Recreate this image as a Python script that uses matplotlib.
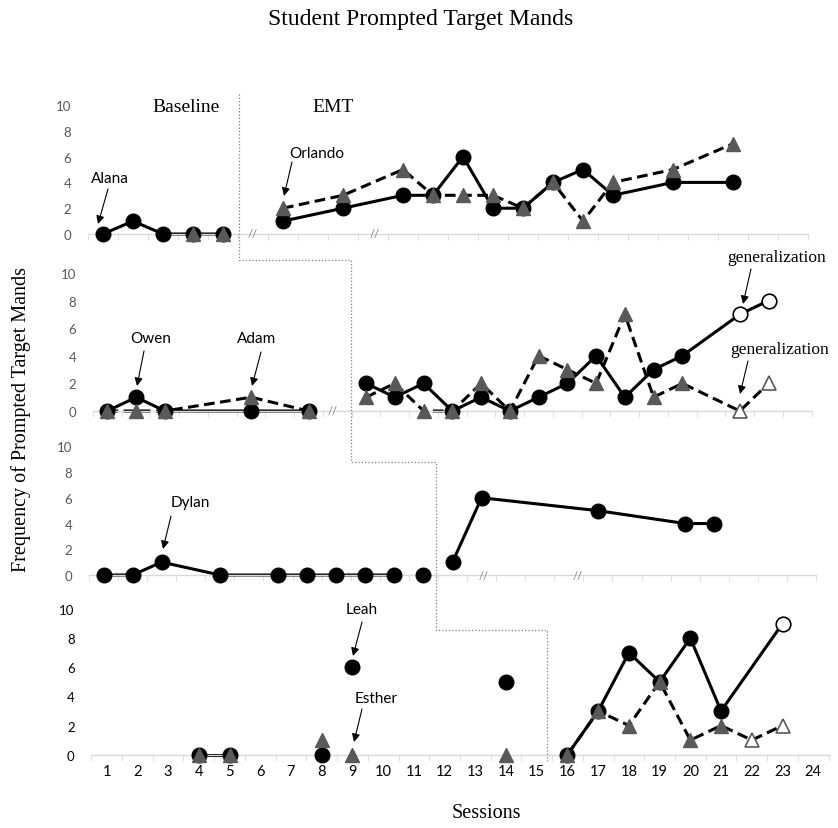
import numpy as np
import matplotlib.pyplot as plt
from matplotlib.lines import Line2D

plt.rcParams['font.family'] = ['Lato', 'DejaVu Sans']
SERIF = 'Liberation Serif'

W, H = 838, 829
fig = plt.figure(figsize=(W / 100, H / 100), dpi=100)

# ---- data: x = session slot on each panel's own category axis ----
# panel 1: Alana (circles), Orlando (triangles)
alana_bl_x = [1, 2, 3, 4, 5]
alana_bl_y = [0, 1, 0, 0, 0]
alana_tx_x = [7, 9, 11, 12, 13, 14, 15, 16, 17, 18, 20, 22]
alana_tx_y = [1, 2, 3, 3, 6, 2, 2, 4, 5, 3, 4, 4]
orlando_bl_x = [4, 5]
orlando_bl_y = [0, 0]
orlando_tx_x = [7, 9, 11, 12, 13, 14, 15, 16, 17, 18, 20, 22]
orlando_tx_y = [2, 3, 5, 3, 3, 3, 2, 4, 1, 4, 5, 7]

# panel 2: Owen (circles), Adam (triangles)
owen_bl_x = [1, 2, 3, 6, 8]
owen_bl_y = [0, 1, 0, 0, 0]
owen_tx_x = [10, 11, 12, 13, 14, 15, 16, 17, 18, 19, 20, 21]
owen_tx_y = [2, 1, 2, 0, 1, 0, 1, 2, 4, 1, 3, 4]
owen_gen_x = [23, 24]
owen_gen_y = [7, 8]
adam_bl_x = [1, 2, 3, 6, 8]
adam_bl_y = [0, 0, 0, 1, 0]
adam_tx_x = [10, 11, 12, 13, 14, 15, 16, 17, 18, 19, 20, 21]
adam_tx_y = [1, 2, 0, 0, 2, 0, 4, 3, 2, 7, 1, 2]
adam_gen_x = [23, 24]
adam_gen_y = [0, 2]

# panel 3: Dylan
dylan_bl_x = [1, 2, 3, 5, 7, 8, 9, 10, 11]
dylan_bl_y = [0, 0, 1, 0, 0, 0, 0, 0, 0]
dylan_single_x = [12]
dylan_single_y = [0]
dylan_tx_x = [13, 14, 18, 21, 22]
dylan_tx_y = [1, 6, 5, 4, 4]

# panel 4: Leah (circles), Esther (triangles)
leah_bl_x = [4, 5]
leah_bl_y = [0, 0]
leah_single_x = [8, 9, 14]
leah_single_y = [0, 6, 5]
leah_tx_x = [16, 17, 18, 19, 20, 21]
leah_tx_y = [0, 3, 7, 5, 8, 3]
leah_gen_x = [23]
leah_gen_y = [9]
esther_bl_x = [4, 5]
esther_bl_y = [0, 0]
esther_single_x = [8, 9, 14]
esther_single_y = [1, 0, 0]
esther_tx_x = [16, 17, 18, 19, 20, 21]
esther_tx_y = [0, 3, 2, 5, 1, 2]
esther_gen_x = [22, 23]
esther_gen_y = [1, 2]

session_labels = [str(i) for i in range(1, 25)]

# ---- styles ----
LW = 2.2
DASH = (0, (3.5, 1.8))
GREY = '#595959'
circ = dict(marker='o', ms=10.5, mfc='black', mec='black')
tri = dict(marker='^', ms=10, mfc=GREY, mec=GREY)
circ_open = dict(marker='o', ms=10.5, mfc='white', mec='black', mew=1.2)
tri_open = dict(marker='^', ms=10, mfc='white', mec=GREY, mew=1.2)


def fx(x):
    return x / W


def fy(y):
    return 1 - y / H


def make_panel(left, right, y0, y10, nslots, labels=False, tick_color=GREY):
    ax = fig.add_axes([fx(left), fy(y0), (right - left) / W, (y0 - y10) / H])
    ax.set_xlim(0.5, nslots + 0.5)
    ax.set_ylim(0, 10)
    for s in ['top', 'right', 'left']:
        ax.spines[s].set_visible(False)
    ax.spines['bottom'].set_color('#d9d9d9')
    ax.spines['bottom'].set_linewidth(1)
    ax.set_yticks(range(0, 11, 2))
    ax.tick_params(axis='y', length=0, pad=12, labelsize=9.5, labelcolor=tick_color)
    ax.set_xticks(np.arange(0.5, nslots + 1, 1), minor=True)
    ax.tick_params(axis='x', which='minor', length=4, color='#d9d9d9', direction='out')
    ax.set_xticks(range(1, nslots + 1))
    if labels:
        ax.set_xticklabels(session_labels[:nslots])
        ax.tick_params(axis='x', which='major', length=0, pad=7, labelsize=10.5)
    else:
        ax.tick_params(axis='x', which='major', length=0, labelbottom=False)
    ax.patch.set_visible(False)
    return ax


def line(ax, x, y, dashed=False):
    ax.plot(x, y, color='black', lw=LW, ls=DASH if dashed else '-', clip_on=False, zorder=2)


def pts(ax, x, y, style, z=3):
    ax.plot(x, y, ls='none', clip_on=False, zorder=z, **style)


def breaks(ax, xs):
    for x in xs:
        ax.text(x, 0, '//', ha='center', va='center', fontsize=8, color='#7f7f7f',
                clip_on=False)


ax1 = make_panel(88, 808, 235, 106, 24)
ax2 = make_panel(93, 811.7, 412, 274, 25)
ax3 = make_panel(89, 816, 576, 447.3, 25)
ax4 = make_panel(91.3, 828.6, 755.7, 610, 24, labels=True, tick_color='black')

# panel 1
line(ax1, alana_bl_x, alana_bl_y)
pts(ax1, alana_bl_x, alana_bl_y, circ)
line(ax1, alana_tx_x, alana_tx_y)
pts(ax1, alana_tx_x, alana_tx_y, circ)
pts(ax1, orlando_bl_x, orlando_bl_y, tri, 4)
line(ax1, orlando_tx_x, orlando_tx_y, dashed=True)
pts(ax1, orlando_tx_x, orlando_tx_y, tri, 4)
breaks(ax1, [6.0, 10.07])

# panel 2
line(ax2, owen_bl_x, owen_bl_y)
pts(ax2, owen_bl_x, owen_bl_y, circ)
line(ax2, owen_tx_x + owen_gen_x, owen_tx_y + owen_gen_y)
pts(ax2, owen_tx_x, owen_tx_y, circ)
pts(ax2, owen_gen_x, owen_gen_y, circ_open)
line(ax2, adam_bl_x, adam_bl_y, dashed=True)
pts(ax2, adam_bl_x, adam_bl_y, tri, 4)
line(ax2, adam_tx_x + adam_gen_x, adam_tx_y + adam_gen_y, dashed=True)
pts(ax2, adam_tx_x, adam_tx_y, tri, 4)
pts(ax2, adam_gen_x, adam_gen_y, tri_open, 4)
breaks(ax2, [8.82])

# panel 3
line(ax3, dylan_bl_x, dylan_bl_y)
pts(ax3, dylan_bl_x, dylan_bl_y, circ)
pts(ax3, dylan_single_x, dylan_single_y, circ)
line(ax3, dylan_tx_x, dylan_tx_y)
pts(ax3, dylan_tx_x, dylan_tx_y, circ)
breaks(ax3, [14.07, 17.29])

# panel 4
line(ax4, leah_bl_x, leah_bl_y)
pts(ax4, leah_bl_x, leah_bl_y, circ)
pts(ax4, leah_single_x, leah_single_y, circ)
line(ax4, leah_tx_x + leah_gen_x, leah_tx_y + leah_gen_y)
pts(ax4, leah_tx_x, leah_tx_y, circ)
pts(ax4, leah_gen_x, leah_gen_y, circ_open)
pts(ax4, esther_bl_x, esther_bl_y, tri, 4)
pts(ax4, esther_single_x, esther_single_y, tri, 4)
line(ax4, esther_tx_x + esther_gen_x, esther_tx_y + esther_gen_y, dashed=True)
pts(ax4, esther_tx_x, esther_tx_y, tri, 4)
pts(ax4, esther_gen_x, esther_gen_y, tri_open, 4)

# ---- stepped phase-change line ----
phase_x = [5.52, 9.49, 12.43, 15.32]
step_y = [95, 261, 463, 630.5, 762]
inv = fig.transFigure.inverted()
xs, ys = [], []
for i, (ax, px) in enumerate(zip([ax1, ax2, ax3, ax4], phase_x)):
    xf = inv.transform(ax.transData.transform((px, 0)))[0]
    xs += [xf, xf]
    ys += [fy(step_y[i]), fy(step_y[i + 1])]
fig.add_artist(Line2D(xs, ys, transform=fig.transFigure, color='#7f7f7f', lw=0.9, ls=':'))

# ---- titles and labels ----
fig.text(fx(421), fy(20), 'Student Prompted Target Mands', ha='center', va='center',
         family=SERIF, fontsize=17)
fig.text(fx(186), fy(108), 'Baseline', ha='center', va='center', family=SERIF, fontsize=14)
fig.text(fx(333), fy(108), 'EMT', ha='center', va='center', family=SERIF, fontsize=14)
fig.text(fx(21), fy(420), 'Frequency of Prompted Target Mands', rotation=90, ha='center',
         va='center', family=SERIF, fontsize=14.5)
fig.text(fx(486), fy(814), 'Sessions', ha='center', va='center', family=SERIF, fontsize=14.5)

# ---- participant names with arrows ----
notes = [
    ('Alana', (110, 179), (108, 190), (98, 225), None),
    ('Orlando', (317, 154), (292, 163), (284, 197), None),
    ('Owen', (151, 339), (144, 352), (137, 387), None),
    ('Adam', (257, 339), (261, 353), (252, 387), None),
    ('generalization', (777, 258), (751, 270), (743, 305), SERIF),
    ('generalization', (780, 350), (748, 362), (740, 395), SERIF),
    ('Dylan', (190, 503), (171, 517), (163, 550), None),
    ('Leah', (362, 610), (362, 623), (353, 657), None),
    ('Esther', (376, 699), (362, 710), (354, 743), None),
]
for label, tpos, start, end, fam in notes:
    if fam:
        fig.text(fx(tpos[0]), fy(tpos[1]), label, ha='center', va='center',
                 family=fam, fontsize=12.5)
    else:
        fig.text(fx(tpos[0]), fy(tpos[1]), label, ha='center', va='center', fontsize=11)
    ax1.annotate('', xy=(fx(end[0]), fy(end[1])), xytext=(fx(start[0]), fy(start[1])),
                 xycoords='figure fraction', textcoords='figure fraction',
                 annotation_clip=False,
                 arrowprops=dict(arrowstyle='-|>', color='black', lw=0.8,
                                 mutation_scale=12, shrinkA=0, shrinkB=0))

fig.savefig('out.png', dpi=100)
